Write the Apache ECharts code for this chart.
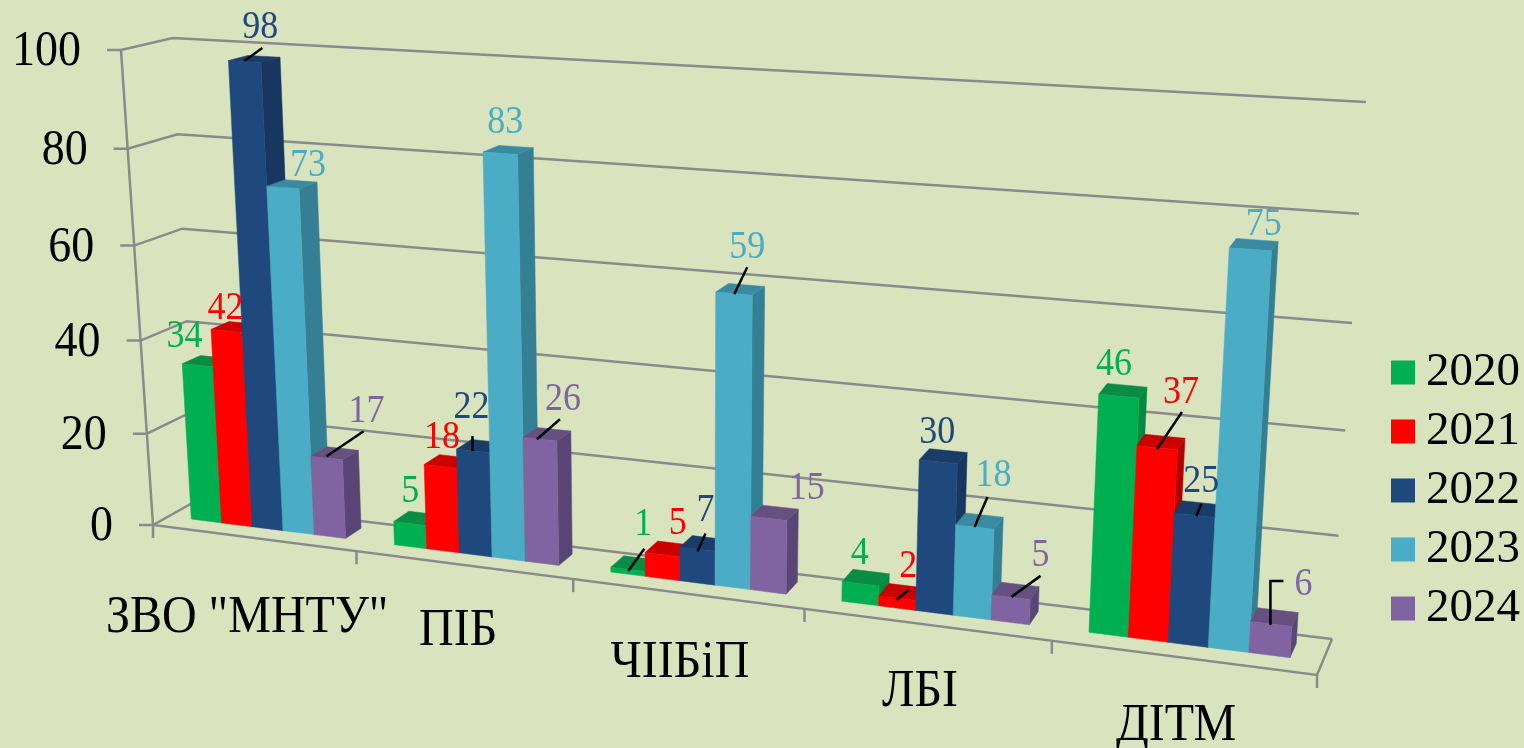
<!DOCTYPE html>
<html><head><meta charset="utf-8">
<style>html,body{margin:0;padding:0;background:#D9E4BE}#c{width:1524px;height:748px}</style>
<script src="https://cdn.jsdelivr.net/npm/echarts@6/dist/echarts.min.js"></script>
</head><body><div id="c"></div>
<script>
// ---- data ----
const categories = ['ЗВО "МНТУ"', 'ПІБ', 'ЧІІБіП', 'ЛБІ', 'ДІТМ'];
const years = ['2020', '2021', '2022', '2023', '2024'];
const values2020 = [34, 5, 1, 4, 46];
const values2021 = [42, 18, 5, 2, 37];
const values2022 = [98, 22, 7, 30, 25];
const values2023 = [73, 83, 59, 18, 75];
const values2024 = [17, 26, 15, 5, 6];
const yTicks = [0, 20, 40, 60, 80, 100];

// ---- style ----
const FONT = '"Liberation Serif","Times New Roman",serif';
const BG = '#D9E4BE', GRID = '#8A8A8A', TEXT_STRETCH = 1.1;
const front = ['#00B050', '#FF0000', '#1F497D', '#4BACC6', '#8064A2'];
const top_ = ['#0A8C44', '#CC0000', '#1A3C68', '#3A8AA2', '#66507F'];
const side = ['#008A40', '#B00000', '#173660', '#357F94', '#5A4676'];

// ---- 3D frame used to warp the flat axis coordinates ----
const C = {
  fbl: [153, 525], fbr: [1317, 675], btl: [172.7, 38], btr: [1366, 102],
  bbl: [196, 501], bbr: [1332, 639], ftl: [121, 50], ftr: [1352, 122]
};
const RU = 1.18, RV = 1.05, D0 = 0.366, D1 = 0.766, SPAN0 = 0.115, SPAN1 = 0.88;
const lerp = (a, b, t) => [a[0] + (b[0] - a[0]) * t, a[1] + (b[1] - a[1]) * t];
function warp(u, v, d) {
  const uu = u / (u + (1 - u) * RU), vv = v / (v + (1 - v) * RV);
  const fb = lerp(C.fbl, C.fbr, uu), ft = lerp(C.ftl, C.ftr, uu);
  const bb = lerp(C.bbl, C.bbr, uu), bt = lerp(C.btl, C.btr, uu);
  return lerp(lerp(fb, ft, vv), lerp(bb, bt, vv), d);
}
// flat axis pixel -> warped pixel
function projector(params) {
  const cs = params.coordSys;
  return (px, py, d) => warp((px - cs.x) / cs.width, (cs.y + cs.height - py) / cs.height, d);
}

// ---- label placement relative to each bar's top face ----
const labelOffsets = [
  [[-22, -25], [-7, -27], [9, -39], [-6, -24], [-9, -26]],
  [[-10, -18], [-6, -24], [9, -25], [6, -25], [20, -49]],
  [[6, -31], [-9, -38], [2, -33], [-6, -24], [3, -27]],
  [[16, -19], [-3, -27], [7, -42], [14, -45], [10, -20]],
  [[32, -42], [16, -35], [32, -24], [25, -35], [29, -32]]
];
const leaderOffsets = [
  [null, null, [[-6, 7], [10, -15]], null, null],
  [null, null, null, [[-6, 8], [6, -2]], [[-4, 7], [21, -30]]],
  [[[-10, 2], [8, -11]], [[-8, 5], [-8, -10]], [[-6, 8], [2, -10]], null, [[-2, 7], [3, -5]]],
  [null, null, [[-6, 5], [7, -22]], [[-5, 6], [8, -24]], null],
  [[[-8, 3], [29, -22]], [[-10, 5], [13, -15]], null, [[-4, 6], [25, -15]], [[-4, 8], [-4, -36], [9, -36]]]
];
const catLabelOffsets = [[-6, 80], [-5, 66], [-7, 69], [-6, 68], [-6, 69]];

function quad(pts, fill, z2) {
  return { type: 'polygon', z2: z2, shape: { points: pts }, style: { fill: fill, stroke: fill, lineWidth: 0.5 } };
}
function stretchedText(x, y, text, fill, size, align, z2) {
  return { type: 'text', z2: z2, x: x, y: y, scaleY: TEXT_STRETCH,
    style: { x: 0, y: 0, text: text, fill: fill, font: size + 'px ' + FONT, align: align, verticalAlign: 'middle' } };
}
function barRenderer(s) {
  return function (params, api) {
    const p = projector(params);
    const cat = api.value(0), val = api.value(1);
    const c = api.coord([cat, 0]), t = api.coord([cat, val]);
    const band = api.size([1, 0])[0];
    const w = (SPAN1 - SPAN0) / years.length;
    const x0 = c[0] - band / 2 + band * (SPAN0 + w * s), x1 = x0 + band * w;
    const y0 = c[1], y1 = t[1];
    const A = p(x0, y0, D0), B = p(x1, y0, D0), E = p(x1, y1, D0), F = p(x0, y1, D0);
    const B2 = p(x1, y0, D1), E2 = p(x1, y1, D1), F2 = p(x0, y1, D1);
    const anchor = p((x0 + x1) / 2, y1, (D0 + D1) / 2);
    const kids = [
      quad([B, B2, E2, E], side[s], s + 1),
      quad([F, E, E2, F2], top_[s], s + 1),
      quad([A, B, E, F], front[s], s + 1)
    ];
    const lead = leaderOffsets[s][cat];
    if (lead) kids.push({
      type: 'polyline', z2: 50,
      shape: { points: lead.map(o => [anchor[0] + o[0], anchor[1] + o[1]]) },
      style: { fill: 'none', stroke: '#000', lineWidth: 2.5 }
    });
    const lo = labelOffsets[s][cat];
    kids.push(stretchedText(anchor[0] + lo[0], anchor[1] + lo[1], String(val), front[s], 36, 'center', 60));
    return { type: 'group', children: kids };
  };
}
function frameRenderer(params, api) {
  const p = projector(params);
  const cs = params.coordSys;
  const val = api.value(0);
  const yy = api.coord([0, val])[1];
  const a = p(cs.x, yy, 0), b = p(cs.x, yy, 1), e = p(cs.x + cs.width, yy, 1);
  const lineStyle = { fill: 'none', stroke: GRID, lineWidth: 2.5 };
  const kids = [
    { type: 'polyline', shape: { points: [[a[0] - 14, a[1]], a, b, e] }, style: lineStyle },
    stretchedText(a[0] - 40, a[1] + 2, String(val), '#000', 46, 'right', 0)
  ];
  if (val === 0) {
    const y100 = api.coord([0, 100])[1];
    const fr = p(cs.x + cs.width, yy, 0);
    kids.push({ type: 'polyline', shape: { points: [p(cs.x, y100, 0), a, fr, e] }, style: lineStyle });
    for (let i = 0; i <= categories.length; i++) {
      const tk = p(cs.x + cs.width * i / categories.length, yy, 0);
      kids.push({ type: 'line', shape: { x1: tk[0], y1: tk[1], x2: tk[0], y2: tk[1] + 13 }, style: lineStyle });
    }
    categories.forEach((name, i) => {
      const m = p(cs.x + cs.width * (i + 0.5) / categories.length, yy, 0);
      const o = catLabelOffsets[i];
      kids.push(stretchedText(m[0] + o[0], m[1] + o[1], name, '#000', 48, 'center', 0));
    });
  }
  return { type: 'group', children: kids };
}

const allValues = [values2020, values2021, values2022, values2023, values2024];
const chart = echarts.init(document.getElementById('c'), null, { renderer: 'canvas' });
chart.setOption({
  animation: false,
  backgroundColor: BG,
  grid: { left: 153, right: 207, top: 50, bottom: 223 },
  xAxis: { type: 'category', data: categories, show: false },
  yAxis: { type: 'value', min: 0, max: 100, interval: 20, show: false },
  legend: {
    orient: 'vertical', left: 1391, top: 349, padding: 0, itemWidth: 24, itemHeight: 24, itemGap: 12,
    icon: 'rect', data: years, selectedMode: false,
    textStyle: { fontFamily: FONT, fontSize: 47, color: '#000', padding: [0, 0, 0, 6] }
  },
  series: [
    { type: 'custom', name: 'frame', coordinateSystem: 'cartesian2d', silent: true, z: 1,
      encode: { y: 0 }, data: yTicks.map(v => [v]), renderItem: frameRenderer, clip: false }
  ].concat(years.map((y, s) => ({
    type: 'custom', name: y, coordinateSystem: 'cartesian2d', silent: true, z: 2,
    itemStyle: { color: front[s] }, clip: false,
    encode: { x: 0, y: 1 },
    data: allValues[s].map((v, i) => [i, v]),
    renderItem: barRenderer(s)
  })))
});
</script></body></html>
